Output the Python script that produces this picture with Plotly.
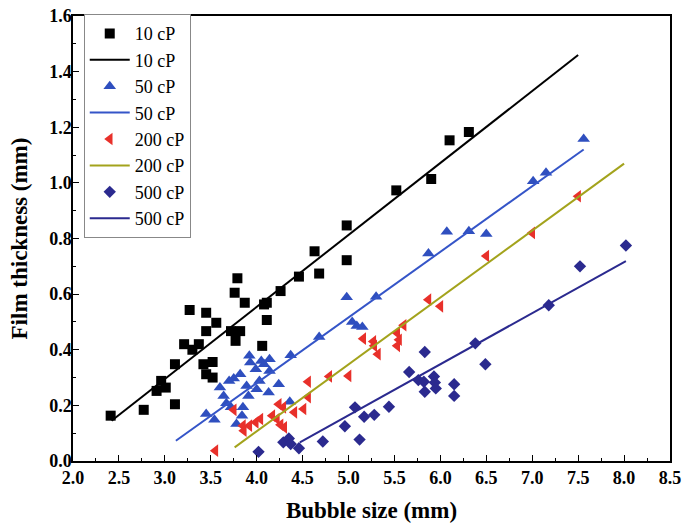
import plotly.graph_objects as go

# ---- data ----
x10 = [2.41, 2.77, 2.91, 2.96, 3.01, 3.11, 3.11, 3.21, 3.27, 3.30, 3.37, 3.42, 3.45, 3.45, 3.45,
       3.52, 3.52, 3.56, 3.72, 3.77, 3.76, 3.79, 3.82, 3.87, 4.06, 4.08, 4.11, 4.11, 4.26, 4.46,
       4.63, 4.68, 4.98, 4.98, 5.52, 5.90, 6.10, 6.31]
y10 = [0.163, 0.184, 0.252, 0.288, 0.264, 0.348, 0.204, 0.420, 0.543, 0.400, 0.420, 0.348, 0.533, 0.467, 0.312,
       0.356, 0.300, 0.497, 0.467, 0.432, 0.605, 0.657, 0.467, 0.569, 0.414, 0.563, 0.569, 0.507, 0.611, 0.663,
       0.754, 0.674, 0.847, 0.722, 0.973, 1.014, 1.153, 1.183]

x50 = [3.45, 3.54, 3.60, 3.64, 3.67, 3.70, 3.72, 3.75, 3.78, 3.82, 3.84, 3.85, 3.89, 3.92, 3.93, 3.91,
       3.99, 4.00, 4.03, 4.05, 4.08, 4.14, 4.14, 4.13, 4.24, 4.37, 4.36, 4.68, 4.98, 5.04, 5.09, 5.15,
       5.30, 5.87, 6.07, 6.31, 6.50, 7.01, 7.15, 7.56]
y50 = [0.169, 0.148, 0.264, 0.234, 0.208, 0.288, 0.193, 0.297, 0.133, 0.312, 0.163, 0.193, 0.270, 0.378, 0.354, 0.234,
       0.330, 0.258, 0.288, 0.360, 0.348, 0.366, 0.324, 0.246, 0.276, 0.380, 0.213, 0.446, 0.589, 0.500, 0.485, 0.482,
       0.591, 0.746, 0.824, 0.826, 0.816, 1.006, 1.036, 1.158]

x200 = [3.55, 3.75, 3.85, 3.86, 3.92, 3.99, 4.04, 4.17, 4.22, 4.26, 4.30, 4.24, 4.29, 4.41, 4.51, 4.56,
        4.56, 4.79, 5.00, 5.16, 5.27, 5.28, 5.32, 5.53, 5.55, 5.53, 5.60, 5.87, 6.00, 6.50, 7.00, 7.50]
y200 = [0.037, 0.184, 0.127, 0.109, 0.127, 0.139, 0.151, 0.163, 0.151, 0.130, 0.121, 0.204, 0.193, 0.175, 0.187, 0.285,
        0.230, 0.304, 0.306, 0.440, 0.430, 0.414, 0.384, 0.460, 0.436, 0.414, 0.488, 0.580, 0.556, 0.737, 0.820, 0.952]

x500 = [4.02, 4.29, 4.35, 4.37, 4.46, 4.72, 4.96, 5.07, 5.12, 5.17, 5.28, 5.44, 5.66, 5.76, 5.82, 5.83,
        5.83, 5.93, 5.94, 5.95, 6.15, 6.15, 6.38, 6.49, 7.18, 7.52, 8.02]
y500 = [0.033, 0.067, 0.081, 0.061, 0.046, 0.070, 0.125, 0.193, 0.077, 0.159, 0.166, 0.195, 0.320, 0.291, 0.285, 0.392,
        0.249, 0.304, 0.282, 0.261, 0.276, 0.234, 0.423, 0.348, 0.560, 0.700, 0.775]

# fitted lines (end points)
fx10, fy10 = [2.42, 7.50], [0.145, 1.460]
fx50, fy50 = [3.12, 7.56], [0.073, 1.120]
fx200, fy200 = [3.76, 8.00], [0.049, 1.069]
fx500, fy500 = [4.47, 8.02], [0.067, 0.719]

names = ["10 cP", "50 cP", "200 cP", "500 cP"]

FONT = "Liberation Serif"
C_BLK = "#000000"
C_BLUE_M = "#2f4fbf"
C_BLUE_L = "#3555c8"
C_RED = "#e8302a"
C_OLIVE = "#a3a31c"
C_NAVY = "#2b2a8f"

fig = go.Figure()
fig.add_trace(go.Scatter(x=x10, y=y10, mode="markers", name=names[0],
                         marker=dict(symbol="square", size=10, color=C_BLK)))
fig.add_trace(go.Scatter(x=fx10, y=fy10, mode="lines", name=names[0],
                         line=dict(color=C_BLK, width=2)))
fig.add_trace(go.Scatter(x=x50, y=y50, mode="markers", name=names[1],
                         marker=dict(symbol="triangle-up", size=11, color=C_BLUE_M)))
fig.add_trace(go.Scatter(x=fx50, y=fy50, mode="lines", name=names[1],
                         line=dict(color=C_BLUE_L, width=2)))
fig.add_trace(go.Scatter(x=x200, y=y200, mode="markers", name=names[2],
                         marker=dict(symbol="triangle-left", size=11, color=C_RED)))
fig.add_trace(go.Scatter(x=fx200, y=fy200, mode="lines", name=names[2],
                         line=dict(color=C_OLIVE, width=2)))
fig.add_trace(go.Scatter(x=x500, y=y500, mode="markers", name=names[3],
                         marker=dict(symbol="diamond", size=9.5, color=C_NAVY)))
fig.add_trace(go.Scatter(x=fx500, y=fy500, mode="lines", name=names[3],
                         line=dict(color=C_NAVY, width=2)))

axis_common = dict(showline=True, linecolor="black", linewidth=1.5, mirror=True,
                   ticks="inside", ticklen=6, tickwidth=1.3, tickcolor="black",
                   showgrid=False, zeroline=False, automargin=False,
                   tickfont=dict(family=FONT, size=18, color="black", weight="bold"))

fig.update_xaxes(range=[2.0, 8.5], dtick=0.5, tick0=2.0, tickformat=".1f",
                 minor=dict(ticks="inside", ticklen=3, dtick=0.25, tickcolor="black"),
                 title=dict(text="Bubble size (mm)",
                            font=dict(family=FONT, size=23, color="black", weight="bold")),
                 **axis_common)
fig.update_yaxes(range=[0.0, 1.6], dtick=0.2, tick0=0, tickformat=".1f",
                 ticklabelstandoff=-4,
                 minor=dict(ticks="inside", ticklen=3, dtick=0.1, tickcolor="black"),
                 title=dict(text="Film thickness (mm)",
                            font=dict(family=FONT, size=23, color="black", weight="bold")),
                 **axis_common)

fig.update_layout(width=683, height=526,
                  margin=dict(l=73, r=13, t=16, b=65),
                  plot_bgcolor="white", paper_bgcolor="white",
                  showlegend=True,
                  legend=dict(x=0.018, y=1.004, xanchor="left", yanchor="top",
                              bordercolor="#888888", borderwidth=1, bgcolor="white",
                              font=dict(family=FONT, size=18, color="black"),
                              tracegroupgap=0, itemwidth=40))

fig.write_html("out.html", config={"displayModeBar": False},
               post_script="document.body.style.margin='0';document.body.style.padding='0';")
